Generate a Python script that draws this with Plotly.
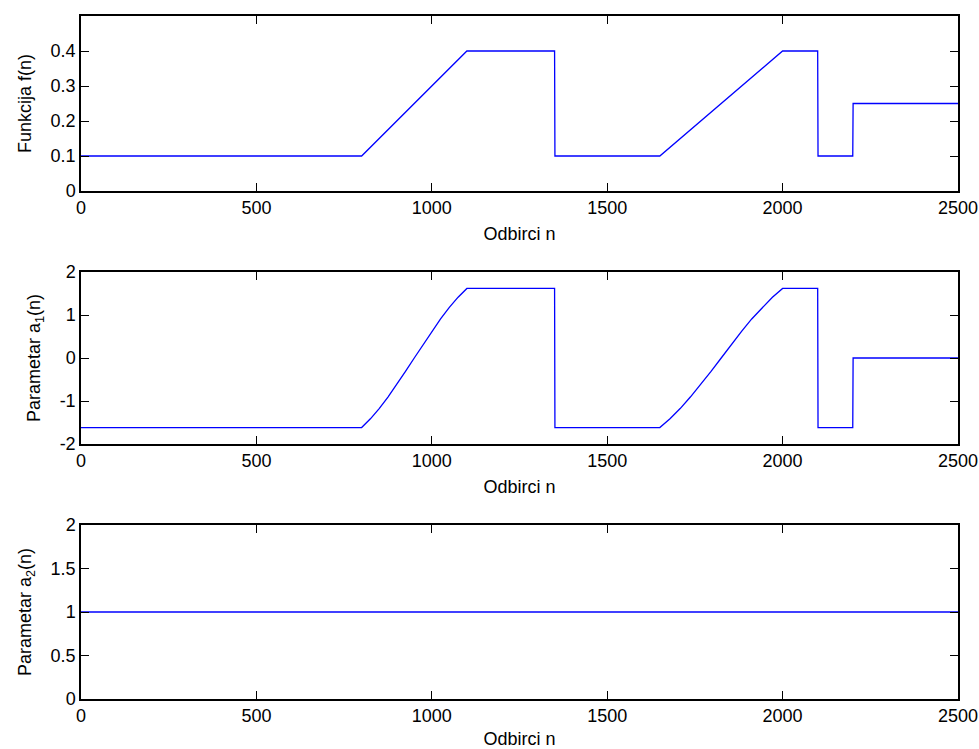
import plotly.graph_objects as go

# f(n) breakpoints
n_f = [0, 800, 1100, 1350, 1351, 1650, 2000, 2100, 2101, 2200, 2201, 2500]
f_vals = [0.1, 0.1, 0.4, 0.4, 0.1, 0.1, 0.4, 0.4, 0.1, 0.1, 0.25, 0.25]

# a1(n)
n_a1 = [0, 800, 825, 850, 875, 900, 925, 950, 975, 1000, 1025, 1050, 1075, 1100,
        1350, 1351, 1650, 1679, 1708, 1737, 1767, 1796, 1825, 1854, 1883, 1912,
        1942, 1971, 2000, 2100, 2101, 2200, 2201, 2500]
a1_vals = [-1.618, -1.618, -1.414, -1.176, -0.908, -0.618, -0.313, 0.0, 0.313, 0.618,
           0.908, 1.176, 1.414, 1.618,
           1.618, -1.618, -1.618, -1.414, -1.176, -0.908, -0.618, -0.313, 0.0, 0.313,
           0.618, 0.908, 1.176, 1.414, 1.618, 1.618, -1.618, -1.618, 0.0, 0.0]

# a2(n)
n_a2 = [0, 2500]
a2_vals = [1, 1]

x_ticks = [0, 500, 1000, 1500, 2000, 2500]
y1_ticks = [0, 0.1, 0.2, 0.3, 0.4]
y2_ticks = [-2, -1, 0, 1, 2]
y3_ticks = [0, 0.5, 1, 1.5, 2]

W, H = 979, 749
xd = [81 / W, 958 / W]
def yd(top, bot):
    return [1 - bot / H, 1 - top / H]

fig = go.Figure()
line = dict(color="#0000FF", width=1.3)
fig.add_trace(go.Scatter(x=n_f, y=f_vals, mode="lines", line=line, xaxis="x", yaxis="y"))
fig.add_trace(go.Scatter(x=n_a1, y=a1_vals, mode="lines", line=line, xaxis="x2", yaxis="y2"))
fig.add_trace(go.Scatter(x=n_a2, y=a2_vals, mode="lines", line=line, xaxis="x3", yaxis="y3"))

font = dict(family="Liberation Sans, Arial, sans-serif", size=18, color="black")
common = dict(showline=True, linecolor="black", linewidth=1.5, mirror="ticks",
              ticks="inside", ticklen=8, tickwidth=1, tickcolor="black",
              showgrid=False, zeroline=False, tickfont=font, automargin=False)

def xax(anchor):
    return dict(common, domain=xd, range=[0, 2500], tickvals=x_ticks,
                ticktext=[str(v) for v in x_ticks], anchor=anchor,
                title=dict(text="Odbirci n", font=font, standoff=10))

fig.update_layout(
    width=W, height=H, margin=dict(l=0, r=0, t=0, b=0, autoexpand=False),
    paper_bgcolor="white", plot_bgcolor="white", showlegend=False,
    font=font,
    xaxis=xax("y"),
    xaxis2=xax("y2"),
    xaxis3=xax("y3"),
    yaxis=dict(common, domain=yd(16, 191), range=[0, 0.5], tickvals=y1_ticks,
               ticktext=["0", "0.1", "0.2", "0.3", "0.4"], anchor="x",
               title=dict(text="Funkcija f(n)", font=font, standoff=14)),
    yaxis2=dict(common, domain=yd(272, 444), range=[-2, 2], tickvals=y2_ticks,
                ticktext=["-2", "-1", "0", "1", "2"], anchor="x2",
                title=dict(text="Parametar a<sub>1</sub>(n)", font=font, standoff=14)),
    yaxis3=dict(common, domain=yd(525, 699), range=[0, 2], tickvals=y3_ticks,
                ticktext=["0", "0.5", "1", "1.5", "2"], anchor="x3",
                title=dict(text="Parametar a<sub>2</sub>(n)", font=font, standoff=14)),
)

fig.write_html("out.html")
